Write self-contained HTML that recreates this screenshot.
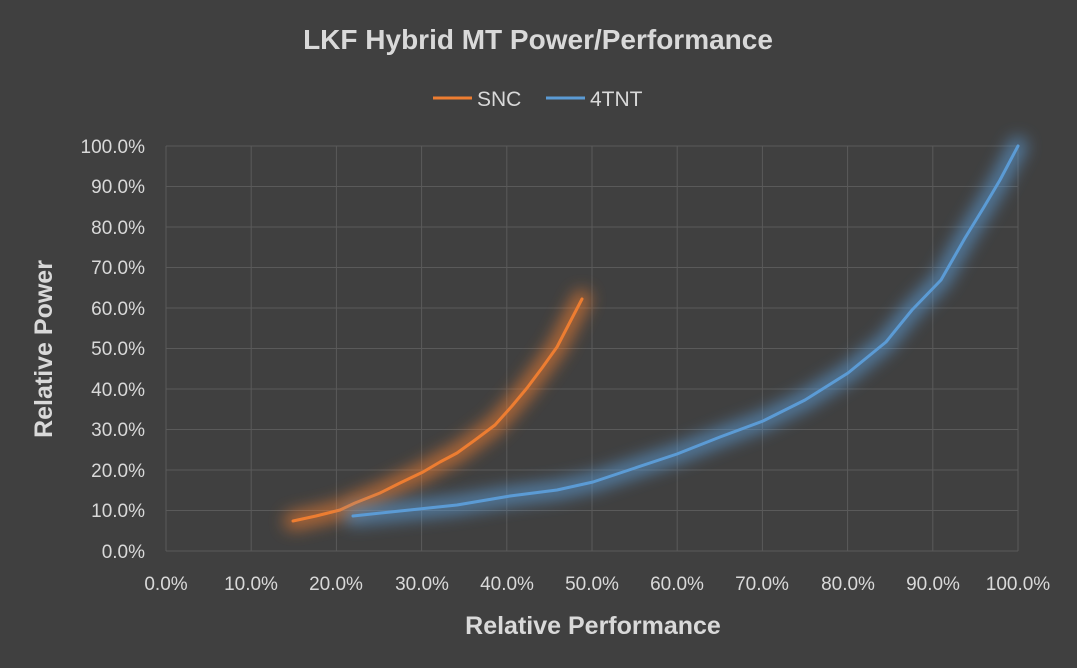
<!DOCTYPE html>
<html><head><style>
html,body{margin:0;padding:0;background:#404040;}
svg{display:block;}
text{font-family:"Liberation Sans",sans-serif;fill:#d9d9d9;}
</style></head><body>
<svg width="1077" height="668" viewBox="0 0 1077 668">
<defs>
<filter id="gl" x="-20%" y="-20%" width="140%" height="140%"><feGaussianBlur stdDeviation="8"/></filter>
</defs>
<rect width="1077" height="668" fill="#404040"/>
<g stroke="#5a5a5a" stroke-width="1">
<line x1="166" y1="146" x2="1018" y2="146"/><line x1="166" y1="186.5" x2="1018" y2="186.5"/><line x1="166" y1="227" x2="1018" y2="227"/><line x1="166" y1="267.5" x2="1018" y2="267.5"/><line x1="166" y1="308" x2="1018" y2="308"/><line x1="166" y1="348.5" x2="1018" y2="348.5"/><line x1="166" y1="389" x2="1018" y2="389"/><line x1="166" y1="429.5" x2="1018" y2="429.5"/><line x1="166" y1="470" x2="1018" y2="470"/><line x1="166" y1="510.5" x2="1018" y2="510.5"/><line x1="166" y1="551" x2="1018" y2="551"/>
<line x1="166" y1="146" x2="166" y2="551"/><line x1="251.2" y1="146" x2="251.2" y2="551"/><line x1="336.4" y1="146" x2="336.4" y2="551"/><line x1="421.6" y1="146" x2="421.6" y2="551"/><line x1="506.8" y1="146" x2="506.8" y2="551"/><line x1="592" y1="146" x2="592" y2="551"/><line x1="677.2" y1="146" x2="677.2" y2="551"/><line x1="762.4" y1="146" x2="762.4" y2="551"/><line x1="847.6" y1="146" x2="847.6" y2="551"/><line x1="932.8" y1="146" x2="932.8" y2="551"/><line x1="1018" y1="146" x2="1018" y2="551"/>
</g>
<g font-size="19" text-anchor="end">
<text x="145" y="153">100.0%</text><text x="145" y="193">90.0%</text><text x="145" y="234">80.0%</text><text x="145" y="274">70.0%</text><text x="145" y="315">60.0%</text><text x="145" y="355">50.0%</text><text x="145" y="396">40.0%</text><text x="145" y="436">30.0%</text><text x="145" y="477">20.0%</text><text x="145" y="517">10.0%</text><text x="145" y="558">0.0%</text>
</g>
<g font-size="19" text-anchor="middle">
<text x="166" y="590">0.0%</text><text x="251" y="590">10.0%</text><text x="336" y="590">20.0%</text><text x="422" y="590">30.0%</text><text x="507" y="590">40.0%</text><text x="592" y="590">50.0%</text><text x="677" y="590">60.0%</text><text x="762" y="590">70.0%</text><text x="848" y="590">80.0%</text><text x="933" y="590">90.0%</text><text x="1018" y="590">100.0%</text>
</g>
<text x="538" y="49" font-size="28" font-weight="bold" text-anchor="middle">LKF Hybrid MT Power/Performance</text>
<text x="593" y="634" font-size="25" font-weight="bold" text-anchor="middle">Relative Performance</text>
<text transform="translate(52,349) rotate(-90)" font-size="25" font-weight="bold" text-anchor="middle">Relative Power</text>
<line x1="433" y1="98" x2="472" y2="98" stroke="#ed7d31" stroke-width="3"/>
<text x="477" y="106" font-size="21">SNC</text>
<line x1="546" y1="98" x2="585" y2="98" stroke="#5b9bd5" stroke-width="3"/>
<text x="590" y="106" font-size="21">4TNT</text>
<g fill="none" stroke-linejoin="round" stroke-linecap="round">
<path d="M293,521 L316,516 L340,510 L355,503 L380,493 L400,483 L423,472 L440,462 L457,453 L475,440 L495,425 L512,406 L527,388 L542,368 L557,347 L570,322 L582,299" stroke="#ed7d31" stroke-width="18" opacity="0.65" filter="url(#gl)"/>
<path d="M293,521 L316,516 L340,510 L355,503 L380,493 L400,483 L423,472 L440,462 L457,453 L475,440 L495,425 L512,406 L527,388 L542,368 L557,347 L570,322 L582,299" stroke="#ed7d31" stroke-width="3"/>
<path d="M353,516 L400,511 L457,505 L510,496 L557,490 L593,482 L635,468 L677,454 L720,437 L763,421 L805,400 L848,373 L886,342 L912,310 L941,280 L965,238 L984,207 L1000,180 L1018,146" stroke="#5b9bd5" stroke-width="18" opacity="0.65" filter="url(#gl)"/>
<path d="M353,516 L400,511 L457,505 L510,496 L557,490 L593,482 L635,468 L677,454 L720,437 L763,421 L805,400 L848,373 L886,342 L912,310 L941,280 L965,238 L984,207 L1000,180 L1018,146" stroke="#5b9bd5" stroke-width="3"/>
</g>
</svg>
</body></html>
